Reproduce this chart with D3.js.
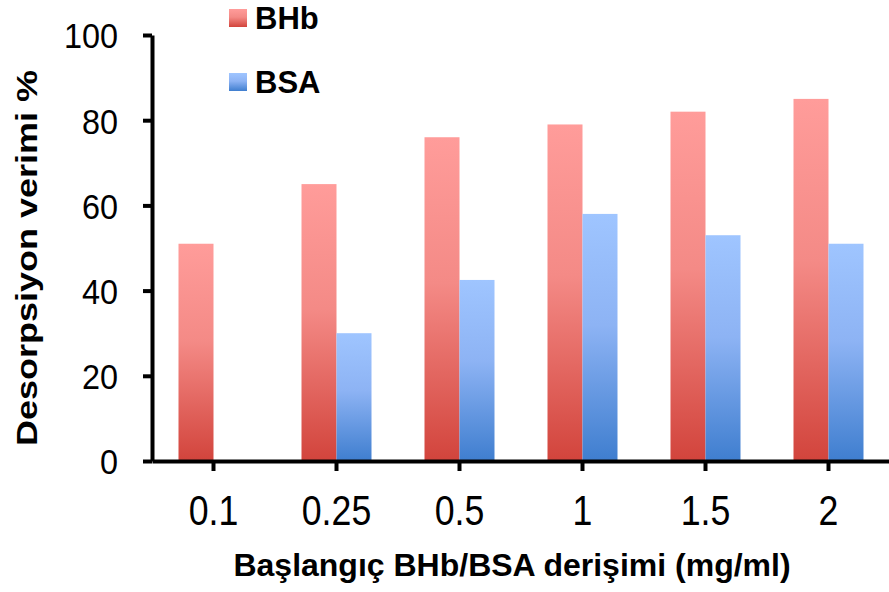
<!DOCTYPE html>
<html>
<head>
<meta charset="utf-8">
<script src="https://cdn.jsdelivr.net/npm/d3@7"></script>
<style>
	body { margin: 0; background: #fff; }
	text { font-family: "Liberation Sans", Arial, sans-serif; fill: #000; }
</style>
</head>
<body>
<div id="chart"></div>
<script>
	// Data
	const categories = ["0.1", "0.25", "0.5", "1", "1.5", "2"];
	const seriesNames = ["BHb", "BSA"];
	const bhbValues = [51, 65, 76, 79, 82, 85];
	const bsaValues = [null, 30, 42.5, 58, 53, 51];
	const yTicks = [0, 20, 40, 60, 80, 100];

	const width = 889,
				height = 592;

	const svg = d3.select("#chart")
		.append("svg")
			.attr("width", width)
			.attr("height", height);

	// Scales
	const x0 = d3.scaleBand()
		.domain(categories)
		.range([152, 890])
		.padding(0);

	const barW = 35;
	const x1 = d3.scaleBand()
		.domain(seriesNames)
		.range([x0.bandwidth() / 2 - barW, x0.bandwidth() / 2 + barW]);

	const y = d3.scaleLinear()
		.domain([0, 100])
		.range([461, 35]);

	// Gradients
	const defs = svg.append("defs");
	const grads = {
		BHb: ["#ff9c9a", "#f48a86", "#d2443c"],
		BSA: ["#9fc5ff", "#8db3f4", "#3f7ecf"]
	};
	Object.keys(grads).forEach(k => {
		const gr = defs.append("linearGradient")
			.attr("id", "grad-" + k)
			.attr("x1", 0).attr("y1", 0)
			.attr("x2", 0).attr("y2", 1);
		gr.append("stop").attr("offset", "0%").attr("stop-color", grads[k][0]);
		gr.append("stop").attr("offset", "45%").attr("stop-color", grads[k][1]);
		gr.append("stop").attr("offset", "100%").attr("stop-color", grads[k][2]);
	});

	// Bars
	const rows = categories.map((c, i) => ({
		cat: c,
		vals: [
			{key: "BHb", value: bhbValues[i]},
			{key: "BSA", value: bsaValues[i]}
		]
	}));

	svg.append("g")
		.selectAll("g")
		.data(rows)
		.enter()
		.append("g")
			.attr("transform", d => `translate(${x0(d.cat)}, 0)`)
		.selectAll("rect")
		.data(d => d.vals.filter(v => v.value != null))
		.enter()
		.append("rect")
			.attr("x", d => x1(d.key))
			.attr("y", d => y(d.value))
			.attr("width", x1.bandwidth())
			.attr("height", d => y(0) - y(d.value))
			.attr("fill", d => `url(#grad-${d.key})`);

	// Axes
	const yAxis = svg.append("g")
		.attr("transform", "translate(152, 0)")
		.call(d3.axisLeft(y)
			.tickValues(yTicks)
			.tickSize(9)
			.tickSizeOuter(0));

	yAxis.selectAll("text")
		.attr("x", -34 / 0.9)
		.attr("dy", "0.36em")
		.attr("transform", "scale(0.9, 1)")
		.style("font-size", "36px");

	const xAxis = svg.append("g")
		.attr("transform", `translate(0, ${y(0)})`)
		.call(d3.axisBottom(x0)
			.tickSize(10)
			.tickSizeOuter(0));

	// axisBottom puts the label at x = 0 inside each tick, so the scale does not move it
	xAxis.selectAll("text")
		.attr("y", 64)
		.attr("dy", 0)
		.attr("transform", "scale(0.85, 1)")
		.style("font-size", "42px");

	[yAxis, xAxis].forEach(a => {
		a.select(".domain").attr("stroke", "#000").attr("stroke-width", 4);
		a.selectAll(".tick line").attr("stroke", "#000").attr("stroke-width", 4);
		a.attr("font-family", null).attr("font-size", null);
	});

	// Axis titles
	svg.append("text")
		.attr("transform", "translate(37, 258) rotate(-90) scale(1, 0.83)")
		.attr("text-anchor", "middle")
		.style("font-size", "36px")
		.style("font-weight", "bold")
		.text("Desorpsiyon verimi %");

	svg.append("text")
		.attr("x", 512)
		.attr("y", 576)
		.attr("text-anchor", "middle")
		.style("font-size", "32px")
		.style("font-weight", "bold")
		.text("Başlangıç BHb/BSA derişimi (mg/ml)");

	// Legend
	const legend = svg.append("g")
		.selectAll("g")
		.data(seriesNames)
		.enter()
		.append("g")
			.attr("transform", (d, i) => `translate(229, ${29 + i * 64})`);

	legend.append("rect")
		.attr("y", -20)
		.attr("width", 18)
		.attr("height", 18)
		.attr("fill", d => `url(#grad-${d})`);

	legend.append("text")
		.attr("x", 26)
		.attr("y", 0)
		.style("font-size", "31px")
		.style("font-weight", "bold")
		.text(d => d);
</script>
</body>
</html>
